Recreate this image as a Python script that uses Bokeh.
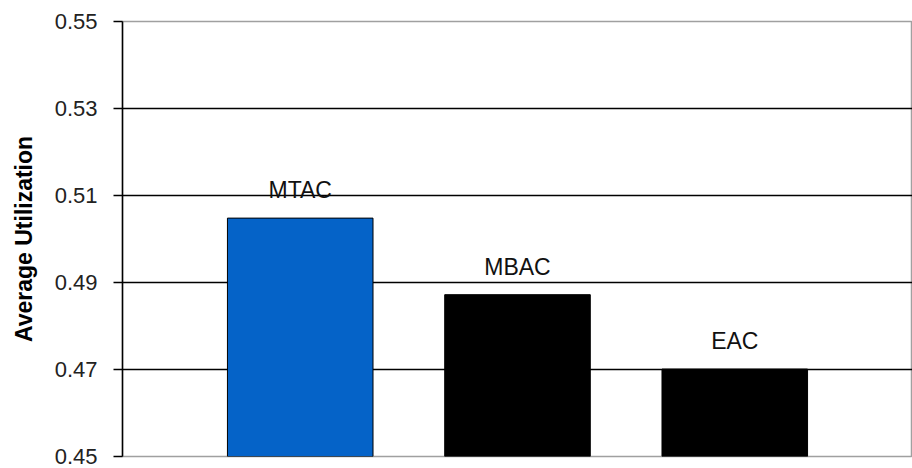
from bokeh.plotting import figure
from bokeh.models import FactorRange, Range1d, FixedTicker, ColumnDataSource, CustomJSTickFormatter
from bokeh.embed import file_html
from bokeh.resources import INLINE
from bokeh.core.properties import value

# data
categories = ["MTAC", "MBAC", "EAC"]
utilization = [0.5048, 0.4872, 0.4701]
bar_colors = ["#0563C8", "#000000", "#000000"]
y_ticks = [0.45, 0.47, 0.49, 0.51, 0.53, 0.55]
grid_ticks = [0.47, 0.49, 0.51, 0.53]

src = ColumnDataSource(dict(cat=categories, val=utilization, color=bar_colors))

p = figure(width=912, height=468, output_backend="svg", toolbar_location=None,
           x_range=FactorRange(factors=categories, range_padding=0.318,
                               range_padding_units="absolute"),
           y_range=Range1d(0.45, 0.55),
           min_border_left=122, min_border_right=0, min_border_top=21,
           min_border_bottom=12)

p.vbar(x="cat", top="val", bottom=0.45, width=0.67, fill_color="color",
       line_color="#000000", line_width=1, source=src)

p.text(x="cat", y="val", text="cat", source=src, text_align="center",
       text_baseline="alphabetic", y_offset=-28, text_font=value("Liberation Sans"),
       text_font_size="23px", text_color="#111111")

p.xaxis.visible = False
p.xgrid.visible = False
p.ygrid.ticker = FixedTicker(ticks=grid_ticks)
p.ygrid.grid_line_color = "#000000"
p.ygrid.grid_line_width = 1.5

yax = p.yaxis[0]
yax.ticker = FixedTicker(ticks=y_ticks)
yax.formatter = CustomJSTickFormatter(code="return tick.toFixed(2);")
yax.axis_label = "Average Utilization"
yax.axis_label_text_font = "Liberation Sans"
yax.axis_label_text_font_style = "bold"
yax.axis_label_text_font_size = "23px"
yax.axis_label_text_color = "#000000"
yax.axis_label_standoff = 15
yax.major_label_text_font = "Liberation Sans"
yax.major_label_text_font_size = "22px"
yax.major_label_text_color = "#222222"
yax.major_label_standoff = 16
yax.major_tick_out = 9
yax.major_tick_in = 0
yax.minor_tick_out = 0
yax.minor_tick_in = 0
yax.axis_line_color = "#000000"
yax.axis_line_width = 1.5
yax.major_tick_line_color = "#000000"
yax.major_tick_line_width = 1.5

p.outline_line_color = "#A0A0A0"
p.outline_line_width = 1.5
p.background_fill_color = "#FFFFFF"
p.border_fill_color = "#FFFFFF"

open("out.html", "w").write(file_html(p, INLINE))
